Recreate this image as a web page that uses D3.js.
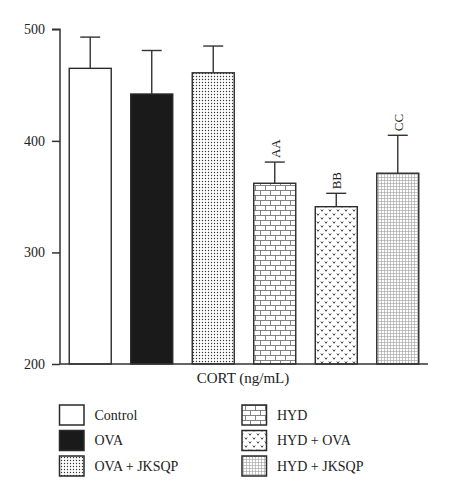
<!DOCTYPE html>
<html>
<head>
<meta charset="utf-8">
<script src="https://cdn.jsdelivr.net/npm/d3@7"></script>
<style>
  body { margin: 0; background: #fff; }
  text { font-family: "Liberation Serif", "Times New Roman", serif; fill: #222; }
</style>
</head>
<body>
<div id="chart"></div>
<script>
// data
const groups = ["Control", "OVA", "OVA + JKSQP", "HYD", "HYD + OVA", "HYD + JKSQP"];
const means = [465, 442, 461, 362, 341, 371];
const errUpper = [493, 481, 485, 381, 353, 405];
const sigLabels = ["", "", "", "AA", "BB", "CC"];
const yTicks = [200, 300, 400, 500];
const fills = ["#fff", "#1a1a1a", "url(#dots)", "url(#bricks)", "url(#vees)", "url(#grid)"];

const width = 452, height = 500;
const svg = d3.select("#chart").append("svg")
  .attr("width", width)
  .attr("height", height);

// patterns for the hatched bars
const defs = svg.append("defs");
const dots = defs.append("pattern").attr("id", "dots")
  .attr("patternUnits", "userSpaceOnUse").attr("width", 3).attr("height", 3);
dots.append("rect").attr("width", 3).attr("height", 3).attr("fill", "#fff");
dots.append("circle").attr("cx", 1.5).attr("cy", 1.5).attr("r", 0.7).attr("fill", "#333");

const bricks = defs.append("pattern").attr("id", "bricks")
  .attr("patternUnits", "userSpaceOnUse").attr("width", 10).attr("height", 10);
bricks.append("rect").attr("width", 10).attr("height", 10).attr("fill", "#fff");
bricks.append("path")
  .attr("d", "M0,0.5H10M0,5.5H10M0.5,0V5M5.5,5V10")
  .attr("stroke", "#777").attr("stroke-width", 0.9).attr("fill", "none");

const vees = defs.append("pattern").attr("id", "vees")
  .attr("patternUnits", "userSpaceOnUse").attr("width", 8).attr("height", 8);
vees.append("rect").attr("width", 8).attr("height", 8).attr("fill", "#fff");
vees.append("path")
  .attr("d", "M0.8,1.5L2,3.3L3.2,1.5M4.8,5.5L6,7.3L7.2,5.5")
  .attr("stroke", "#333").attr("stroke-width", 0.9).attr("fill", "none");

const grid = defs.append("pattern").attr("id", "grid")
  .attr("patternUnits", "userSpaceOnUse").attr("width", 3).attr("height", 3);
grid.append("rect").attr("width", 3).attr("height", 3).attr("fill", "#fff");
grid.append("path")
  .attr("d", "M0,0.5H3M0.5,0V3")
  .attr("stroke", "#aaa").attr("stroke-width", 0.7).attr("fill", "none");

// scales
const plotLeft = 60, plotRight = 428, plotTop = 29.3, plotBottom = 364;
const x = d3.scaleBand().domain(groups).range([plotLeft, plotRight])
  .paddingInner(0.317).paddingOuter(0.15);
const y = d3.scaleLinear().domain([200, 500]).range([plotBottom, plotTop]);

// bars
svg.append("g").selectAll("rect")
  .data(groups)
  .join("rect")
  .attr("x", d => x(d))
  .attr("y", (d, i) => y(means[i]))
  .attr("width", x.bandwidth())
  .attr("height", (d, i) => y(200) - y(means[i]))
  .attr("fill", (d, i) => fills[i])
  .attr("stroke", "#2a2a2a")
  .attr("stroke-width", 1.4);

// error bars (upper only)
const eb = svg.append("g").attr("stroke", "#333").attr("stroke-width", 1.4);
groups.forEach((g, i) => {
  const cx = x(g) + x.bandwidth() / 2;
  eb.append("line").attr("x1", cx).attr("x2", cx)
    .attr("y1", y(means[i])).attr("y2", y(errUpper[i]));
  eb.append("line").attr("x1", cx - 10).attr("x2", cx + 10)
    .attr("y1", y(errUpper[i])).attr("y2", y(errUpper[i]));
  if (sigLabels[i]) {
    svg.append("text")
      .attr("transform", `translate(${cx + 0.5},${y(errUpper[i]) - 4}) rotate(-90)`)
      .attr("dominant-baseline", "central")
      .attr("font-size", 13)
      .text(sigLabels[i]);
  }
});

// axes
const yAxis = d3.axisLeft(y).tickValues(yTicks).tickSize(8).tickPadding(7);
const yg = svg.append("g").attr("transform", `translate(${plotLeft},0)`).call(yAxis);
yg.select(".domain").attr("stroke", "#333").attr("stroke-width", 1.5)
  .attr("d", `M-8,${plotTop}H0V${plotBottom}`);
yg.selectAll(".tick line").attr("stroke", "#333").attr("stroke-width", 1.5);
yg.selectAll(".tick text").attr("font-size", 14)
  .attr("font-family", "Liberation Serif").attr("fill", "#222");

svg.append("line")
  .attr("x1", plotLeft).attr("x2", plotRight)
  .attr("y1", plotBottom).attr("y2", plotBottom)
  .attr("stroke", "#333").attr("stroke-width", 1.5);

svg.append("text")
  .attr("x", 243).attr("y", 383)
  .attr("text-anchor", "middle")
  .attr("font-size", 15)
  .text("CORT (ng/mL)");

// legend
const legend = svg.append("g");
groups.forEach((g, i) => {
  const col = Math.floor(i / 3), row = i % 3;
  const lx = col === 0 ? 59.5 : 242;
  const ly = 405 + row * 25.5;
  legend.append("rect")
    .attr("x", lx).attr("y", ly)
    .attr("width", 24.5).attr("height", 20)
    .attr("fill", fills[i])
    .attr("stroke", "#2a2a2a").attr("stroke-width", 1.5);
  legend.append("text")
    .attr("x", lx + 35).attr("y", ly + 14.5)
    .attr("font-size", 14)
    .text(g);
});
</script>
</body>
</html>
